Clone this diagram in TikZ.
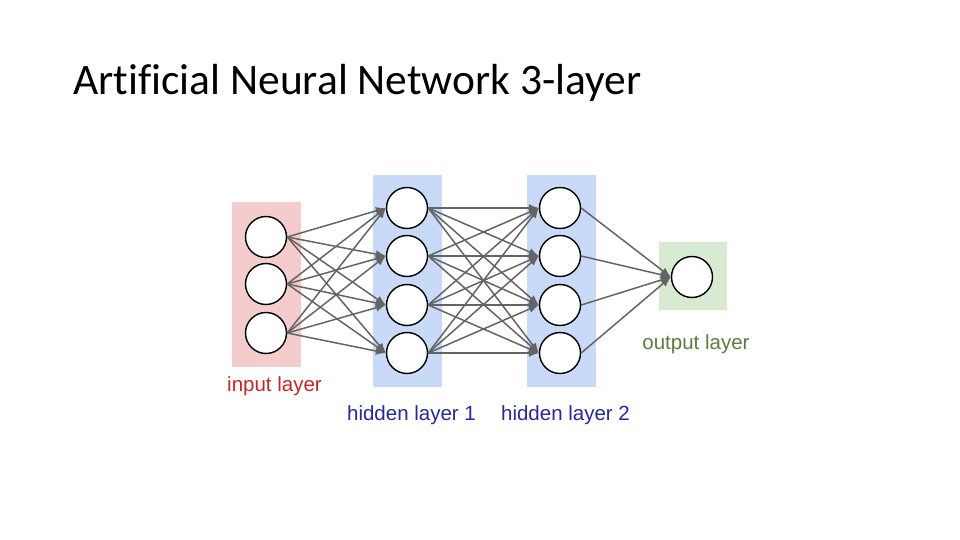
\documentclass[tikz,border=0pt]{standalone}
\usepackage{fontspec}
\setmainfont{Carlito}[Ligatures=CommonOff]
\newfontfamily\labelfont{Liberation Sans}
\usetikzlibrary{arrows.meta}

\definecolor{inbox}{RGB}{244,204,204}
\definecolor{hidbox}{RGB}{201,218,248}
\definecolor{outbox}{RGB}{217,234,211}
\definecolor{inlabel}{RGB}{192,40,40}
\definecolor{hidlabel}{RGB}{40,40,150}
\definecolor{outlabel}{RGB}{90,125,65}
\definecolor{wire}{RGB}{100,100,100}

\begin{document}
\begin{tikzpicture}[x=1pt, y=-1pt,
    neuron/.style={circle, draw, line width=1.4pt, fill=white, minimum size=41pt, inner sep=0pt},
    layerbox/.style={rectangle, inner sep=0pt},
    lbl/.style={font=\labelfont\fontsize{20.5}{24}\selectfont},
    arrow/.style={draw=wire, line width=1.5pt, -{Latex[length=10pt, width=8pt]}}
]
    \useasboundingbox (0,0) rectangle (960,540);

    % Title
    \node[anchor=base west, inner sep=0pt, font=\fontsize{43.5}{52}\selectfont] (title) at (73,95)
        {Artificial Neural Network 3-layer};

    % ── Layer backgrounds ──
    \node[layerbox, fill=inbox,  minimum width=69pt, minimum height=165pt] (inbg)  at (266.5,284.5) {};
    \node[layerbox, fill=hidbox, minimum width=69pt, minimum height=212pt] (h1bg)  at (407,281) {};
    \node[layerbox, fill=hidbox, minimum width=69pt, minimum height=212pt] (h2bg)  at (561,281) {};
    \node[layerbox, fill=outbox, minimum width=68pt, minimum height=68pt]  (outbg) at (693,276) {};

    % ── Neurons ──
    \node[neuron] (i1) at (266,237) {};
    \node[neuron] (i2) at (266,284) {};
    \node[neuron] (i3) at (266,333) {};

    \node[neuron] (a1) at (407,208) {};
    \node[neuron] (a2) at (407,256) {};
    \node[neuron] (a3) at (407,305) {};
    \node[neuron] (a4) at (407,353) {};

    \node[neuron] (b1) at (560,208) {};
    \node[neuron] (b2) at (560,256) {};
    \node[neuron] (b3) at (560,305) {};
    \node[neuron] (b4) at (560,353) {};

    \node[neuron] (o1) at (692,277) {};

    % ── Connections ──
    \foreach \s in {1,2,3}
        \foreach \t in {1,2,3,4}
            \draw[arrow] (i\s.east) -- (a\t.west);
    \foreach \s in {1,2,3,4}
        \foreach \t in {1,2,3,4}
            \draw[arrow] (a\s.east) -- (b\t.west);
    \foreach \s in {1,2,3,4}
        \draw[arrow] (b\s.east) -- (o1.west);

    % ── Labels ──
    \node[lbl, text=inlabel,  anchor=base] (inlbl)  at (274.5,391) {input layer};
    \node[lbl, text=hidlabel, anchor=base] (h1lbl)  at (411.5,420) {hidden layer 1};
    \node[lbl, text=hidlabel, anchor=base] (h2lbl)  at (565.5,420) {hidden layer 2};
    \node[lbl, text=outlabel, anchor=base] (outlbl) at (696,349) {output layer};
\end{tikzpicture}
\end{document}
